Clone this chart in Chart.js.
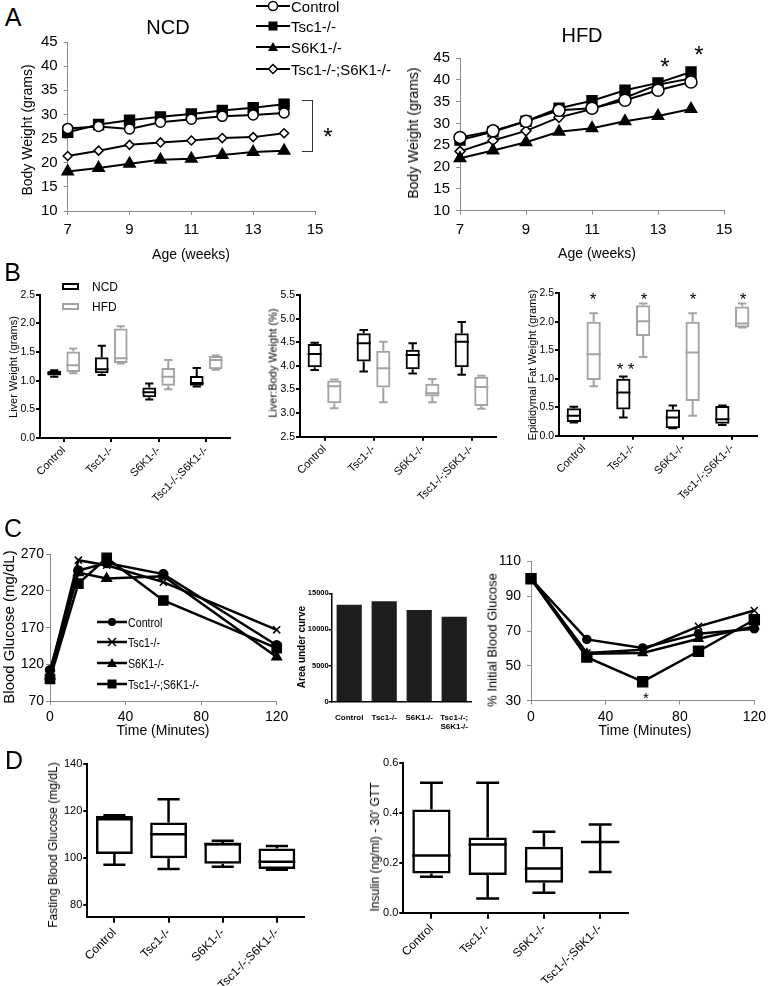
<!DOCTYPE html>
<html lang="en">
<head>
<meta charset="UTF-8">
<title>Body weight, tissue weight and glucose panels</title>
<script src="https://cdn.jsdelivr.net/npm/chart.js"></script>
<style>
    html, body {
        margin: 0;
        padding: 0;
        background: #fff;
        overflow: hidden;
    }
    #page {
        position: relative;
        width: 770px;
        height: 986px;
        font-family: "Liberation Sans", Arial, sans-serif;
        color: #000;
    }
    #page canvas {
        position: absolute;
    }
    .txt {
        position: absolute;
        white-space: nowrap;
        line-height: 1;
    }
</style>
</head>
<body>
<div id="page">
    <canvas id="ncdChart"></canvas>
    <canvas id="hfdChart"></canvas>
    <canvas id="liverChart"></canvas>
    <canvas id="ratioChart"></canvas>
    <canvas id="fatChart"></canvas>
    <canvas id="gttChart"></canvas>
    <canvas id="aucChart"></canvas>
    <canvas id="ittChart"></canvas>
    <canvas id="fastingChart"></canvas>
    <canvas id="insulinChart"></canvas>
</div>

<script>
    // ---- data ----
    const groups = ["Control", "Tsc1-/-", "S6K1-/-", "Tsc1-/-;S6K1-/-"];

    // A: body weight (grams) by age (weeks)
    const weeks = [7, 8, 9, 10, 11, 12, 13, 14];
    const ncdControl = [27.1, 27.5, 27.0, 28.4, 29.0, 29.6, 29.9, 30.3];
    const ncdTsc1 = [26.3, 27.9, 28.8, 29.5, 30.1, 30.8, 31.4, 32.1];
    const ncdS6k1 = [18.2, 18.9, 19.8, 20.6, 20.8, 21.6, 22.2, 22.5];
    const ncdDouble = [21.4, 22.5, 23.7, 24.2, 24.6, 25.1, 25.3, 26.1];
    const hfdControl = [26.8, 28.3, 30.5, 33.0, 33.5, 35.3, 37.6, 39.5];
    const hfdTsc1 = [26.2, 28.1, 30.5, 33.5, 35.2, 37.6, 39.3, 41.8];
    const hfdS6k1 = [22.0, 23.8, 25.7, 28.1, 28.9, 30.5, 31.7, 33.3];
    const hfdDouble = [23.6, 26.1, 28.3, 31.4, 33.3, 35.9, 38.9, 40.3];
    const weightTicks = [10, 15, 20, 25, 30, 35, 40, 45];
    const ageTicks = [7, 9, 11, 13, 15];

    // B: box plots, each entry is [min, q1, median, q3, max]
    const liverNcd = [[1.07, 1.09, 1.13, 1.17, 1.18], [1.10, 1.13, 1.20, 1.41, 1.61], [0.67, 0.71, 0.80, 0.88, 0.95], [0.90, 0.91, 0.96, 1.08, 1.22]];
    const liverHfd = [[1.13, 1.15, 1.27, 1.51, 1.56], [1.30, 1.31, 1.39, 1.91, 1.95], [0.85, 0.91, 1.07, 1.22, 1.36], [1.19, 1.20, 1.36, 1.43, 1.44]];
    const ratioNcd = [[3.91, 3.97, 4.25, 4.46, 4.49], [3.88, 4.09, 4.48, 4.69, 4.76], [3.84, 3.93, 4.23, 4.34, 4.48], [3.81, 3.97, 4.51, 4.69, 4.93]];
    const ratioHfd = [[3.10, 3.21, 3.57, 3.69, 3.71], [3.23, 3.54, 3.95, 4.32, 4.51], [3.23, 3.35, 3.42, 3.62, 3.72], [3.09, 3.15, 3.55, 3.77, 3.79]];
    const fatNcd = [[0.23, 0.24, 0.35, 0.48, 0.51], [0.32, 0.46, 0.76, 1.00, 1.04], [0.13, 0.13, 0.32, 0.46, 0.53], [0.19, 0.21, 0.29, 0.52, 0.53]];
    const fatHfd = [[0.87, 0.98, 1.43, 2.00, 2.15], [1.38, 1.75, 2.01, 2.29, 2.32], [0.35, 0.61, 1.46, 2.00, 2.15], [1.90, 1.90, 1.97, 2.27, 2.32]];
    const liverTicks = [0, 0.5, 1, 1.5, 2, 2.5];
    const ratioTicks = [2.5, 3, 3.5, 4, 4.5, 5, 5.5];

    // C: glucose tolerance, area under curve, insulin tolerance
    const gttMinutes = [0, 15, 30, 60, 120];
    const gttControl = [112, 248, 258, 243, 146];
    const gttTsc1 = [108, 262, 255, 232, 167];
    const gttS6k1 = [104, 245, 237, 240, 130];
    const gttDouble = [100, 230, 265, 207, 142];
    const gttTicks = [70, 120, 170, 220, 270];
    const minuteTicks = [0, 40, 80, 120];
    const aucLabels = ["Control", "Tsc1-/-", "S6K1-/-", ["Tsc1-/-;", "S6K1-/-"]];
    const aucValues = [13400, 13900, 12700, 11750];
    const aucTicks = [0, 5000, 10000, 15000];
    const ittMinutes = [0, 30, 60, 90, 120];
    const ittControl = [100, 65.2, 60.3, 68.5, 71.3];
    const ittTsc1 = [100, 57.4, 59.3, 72.7, 81.8];
    const ittS6k1 = [100, 57.0, 57.4, 65.6, 72.7];
    const ittDouble = [100, 55.0, 40.9, 58.4, 76.5];
    const ittTicks = [30, 50, 70, 90, 110];

    // D: fasting glucose and 30' insulin, [min, q1, median, q3, max]
    const fastingStats = [[97.2, 101.7, 116.6, 118.0, 118.3], [95.3, 99.9, 110.2, 115.2, 125.1], [96.3, 97.6, 106.0, 106.4, 107.4], [95.0, 95.3, 98.4, 104.1, 105.2]];
    const insulinStats = [[0.144, 0.157, 0.229, 0.413, 0.52], [0.057, 0.151, 0.273, 0.301, 0.52], [0.08, 0.12, 0.177, 0.264, 0.324], [0.163, 0.283, 0.283, 0.283, 0.353]];
    const fastingTicks = [80, 100, 120, 140];
    const insulinTicks = [0, 0.2, 0.4, 0.6];

    // ---- helpers ----
    Chart.defaults.font.family = '"Liberation Sans", Arial, sans-serif';
    Chart.defaults.color = "#000";

    const HFD_GREY = "#a3a3a3";
    const excel = { color: "#8c8c8c", width: 1, tick: 4 };
    const prism = { color: "#000", width: 2, tick: 4 };

    function valueAxis(min, max, ticks, style, font, pad, decimals, weight) {
        return {
            type: "linear", min: min, max: max,
            afterBuildTicks: s => { s.ticks = ticks.map(v => ({ value: v })); },
            grid: { drawOnChartArea: false, drawTicks: true, tickLength: style.tick, color: style.color, lineWidth: style.width },
            border: { display: true, color: style.color, width: style.width },
            ticks: {
                font: { size: font, weight: weight || "normal" }, padding: pad, color: "#000",
                callback: v => decimals == null ? String(v) : Number(v).toFixed(decimals)
            }
        };
    }

    function groupAxis(style, font, pad, tick) {
        return {
            type: "category", offset: true,
            grid: { offset: false, drawOnChartArea: false, drawTicks: tick > 0, tickLength: tick, color: style.color, lineWidth: style.width },
            border: { display: true, color: style.color, width: style.width },
            ticks: { font: { size: font }, padding: pad, minRotation: 45, maxRotation: 45, autoSkip: false, color: "#000" }
        };
    }

    // place a canvas so that its chart area lands on [left, top, right, bottom]
    function build(id, area, yw, xh, config) {
        const [L, T, R, B] = area;
        const x0 = Math.round(L - yw - 2), y0 = Math.round(T - 14);
        const x1 = Math.round(Math.min(R + 16, 770)), y1 = Math.round(B + xh + 2);
        const cv = document.getElementById(id);
        cv.width = x1 - x0; cv.height = y1 - y0;
        cv.style.left = x0 + "px"; cv.style.top = y0 + "px";
        cv.style.width = (x1 - x0) + "px"; cv.style.height = (y1 - y0) + "px";
        const o = config.options;
        o.responsive = false;
        o.animation = false;
        o.events = [];
        o.layout = { padding: { left: L - yw - x0, top: T - y0, right: x1 - R, bottom: y1 - B - xh } };
        o.plugins = Object.assign({ legend: { display: false }, tooltip: { enabled: false } }, o.plugins || {});
        o.scales.x.afterFit = s => { s.height = xh; };
        o.scales.y.afterFit = s => { s.width = yw; };
        return new Chart(cv, config);
    }

    function series(xs, ys, style, fill, r, lw) {
        return {
            data: xs.map((x, i) => ({ x: x, y: ys[i] })),
            borderColor: "#000", borderWidth: lw, tension: 0, clip: false,
            pointStyle: style, pointRadius: r, pointBackgroundColor: fill,
            pointBorderColor: "#000", pointBorderWidth: 1.5
        };
    }

    // whiskers, caps and median for floating-bar boxes
    const boxPlugin = {
        id: "boxWhiskers",
        afterDatasetsDraw(chart) {
            const ctx = chart.ctx, y = chart.scales.y;
            chart.data.datasets.forEach((ds, i) => {
                chart.getDatasetMeta(i).data.forEach((bar, j) => {
                    const s = ds.stats[j];
                    const p = bar.getProps(["x", "width"], true);
                    const half = p.width / 2, cap = p.width * 0.3;
                    const py = s.map(v => y.getPixelForValue(v));
                    ctx.save();
                    ctx.strokeStyle = ds.borderColor;
                    ctx.lineWidth = ds.borderWidth;
                    ctx.beginPath();
                    ctx.moveTo(p.x, py[3]); ctx.lineTo(p.x, py[4]);
                    ctx.moveTo(p.x, py[1]); ctx.lineTo(p.x, py[0]);
                    ctx.moveTo(p.x - cap, py[4]); ctx.lineTo(p.x + cap, py[4]);
                    ctx.moveTo(p.x - cap, py[0]); ctx.lineTo(p.x + cap, py[0]);
                    ctx.moveTo(p.x - half, py[2]); ctx.lineTo(p.x + half, py[2]);
                    ctx.stroke();
                    ctx.restore();
                });
            });
        }
    };

    function boxSet(stats, color, lw, catPct, barPct) {
        return {
            data: stats.map(s => [s[1], s[3]]), stats: stats,
            backgroundColor: "rgba(0,0,0,0)", borderColor: color, borderWidth: lw,
            borderSkipped: false, categoryPercentage: catPct, barPercentage: barPct
        };
    }

    // ---- A: body weight ----
    function weightChart(id, area, c, t, s, d, big) {
        return build(id, area, 40, 40, {
            type: "line",
            data: {
                datasets: [
                    series(weeks, c, "circle", "#fff", big ? 6 : 5, 2),
                    series(weeks, t, "rect", "#000", 7, 2),
                    series(weeks, s, "triangle", "#000", 6.5, 2),
                    series(weeks, d, "rectRot", "#fff", big ? 5 : 4.5, 2)
                ]
            },
            options: {
                scales: {
                    x: valueAxis(7, 15, ageTicks, excel, 15, 6),
                    y: valueAxis(10, 45, weightTicks, excel, 15, 6)
                }
            }
        });
    }
    weightChart("ncdChart", [67.7, 40.7, 315, 211], ncdControl, ncdTsc1, ncdS6k1, ncdDouble, false);
    weightChart("hfdChart", [460, 56.7, 724, 210.7], hfdControl, hfdTsc1, hfdS6k1, hfdDouble, true);

    // ---- B: tissue weights ----
    function dietBoxChart(id, area, ncd, hfd, min, max, ticks) {
        return build(id, area, 28, 70, {
            type: "bar",
            data: {
                labels: groups,
                datasets: [boxSet(ncd, "#000", 2, 0.8, 0.72), boxSet(hfd, HFD_GREY, 2, 0.8, 0.72)]
            },
            options: {
                scales: {
                    x: groupAxis(prism, 11, 2, 4),
                    y: valueAxis(min, max, ticks, prism, 10.5, 1, 1)
                }
            },
            plugins: [boxPlugin]
        });
    }
    dietBoxChart("liverChart", [40, 294.7, 230, 438], liverNcd, liverHfd, 0, 2.5, liverTicks);
    dietBoxChart("ratioChart", [300, 295, 496, 436.7], ratioNcd, ratioHfd, 2.5, 5.5, ratioTicks);
    dietBoxChart("fatChart", [559, 293.3, 757, 435.7], fatNcd, fatHfd, 0, 2.5, liverTicks);

    // ---- C: GTT, AUC, ITT ----
    build("gttChart", [50, 554.3, 276.7, 701], 40, 30, {
        type: "line",
        data: {
            datasets: [
                series(gttMinutes, gttControl, "circle", "#000", 4.5, 2.5),
                series(gttMinutes, gttTsc1, "crossRot", "#000", 5, 2.5),
                series(gttMinutes, gttS6k1, "triangle", "#000", 5.5, 2.5),
                series(gttMinutes, gttDouble, "rect", "#000", 6.5, 2.5)
            ]
        },
        options: {
            scales: {
                x: valueAxis(0, 120, minuteTicks, excel, 14, 4),
                y: valueAxis(70, 270, gttTicks, excel, 14, 2)
            }
        }
    });

    build("aucChart", [331.7, 593.3, 471.7, 701.7], 30, 30, {
        type: "bar",
        data: {
            labels: aucLabels,
            datasets: [{ data: aucValues, backgroundColor: "#1e1e1e", categoryPercentage: 0.72, barPercentage: 1 }]
        },
        options: {
            scales: {
                x: {
                    type: "category", offset: true,
                    grid: { display: false },
                    border: { display: true, color: "#000", width: 1.5 },
                    ticks: { font: { size: 8, weight: "bold" }, padding: 3, maxRotation: 0, autoSkip: false, color: "#000" }
                },
                y: valueAxis(0, 15000, aucTicks, { color: "#000", width: 1.5, tick: 3 }, 7.5, 0, null, "bold")
            }
        }
    });

    build("ittChart", [531, 560.7, 759, 700.7], 40, 30, {
        type: "line",
        data: {
            datasets: [
                series(ittMinutes, ittControl, "circle", "#000", 4, 2.5),
                series(ittMinutes, ittTsc1, "crossRot", "#000", 5, 2.5),
                series(ittMinutes, ittS6k1, "triangle", "#000", 5, 2.5),
                series(ittMinutes, ittDouble, "rect", "#000", 7, 2.5)
            ]
        },
        options: {
            scales: {
                x: valueAxis(0, 120, minuteTicks, excel, 14, 4),
                y: valueAxis(30, 110, ittTicks, excel, 14, 6)
            }
        }
    });

    // ---- D: fasting glucose, insulin ----
    function singleBoxChart(id, area, stats, min, max, ticks, decimals) {
        return build(id, area, 34, 70, {
            type: "bar",
            data: { labels: groups, datasets: [boxSet(stats, "#000", 2.5, 0.68, 1)] },
            options: {
                scales: {
                    x: groupAxis(prism, 12, 3, 6),
                    y: valueAxis(min, max, ticks, { color: "#000", width: 2, tick: 4 }, 11, 1, decimals)
                }
            },
            plugins: [boxPlugin]
        });
    }
    singleBoxChart("fastingChart", [87.3, 764.3, 304, 916.7], fastingStats, 75, 140, fastingTicks, null);
    singleBoxChart("insulinChart", [403.3, 762.7, 628.3, 912.7], insulinStats, 0, 0.6, insulinTicks, 1);

    // ---- text, legends and annotations ----
    const page = document.getElementById("page");

    function txt(text, cx, cy, size, opts) {
        opts = opts || {};
        const el = document.createElement("div");
        el.className = "txt";
        el.textContent = text;
        el.style.fontSize = size + "px";
        if (opts.bold) el.style.fontWeight = "bold";
        el.style.left = cx + "px";
        el.style.top = cy + "px";
        if (opts.leftAlign) {
            el.style.transformOrigin = "0 50%";
            el.style.transform = "translateY(-50%)" + (opts.squeeze ? " scaleX(" + opts.squeeze + ")" : "");
        } else {
            el.style.transform = "translate(-50%, -50%)" + (opts.rot ? " rotate(" + opts.rot + "deg)" : "");
        }
        page.appendChild(el);
        return el;
    }

    function star(cx, cy, size) {
        txt("*", cx, cy + size * 0.22, size);
    }

    function marker(shape, x, y) {
        switch (shape) {
            case "circleOpen": return `<circle cx="${x}" cy="${y}" r="4.5" fill="#fff" stroke="#000" stroke-width="1.5"/>`;
            case "circle": return `<circle cx="${x}" cy="${y}" r="4" fill="#000"/>`;
            case "rect": return `<rect x="${x - 4.5}" y="${y - 4.5}" width="9" height="9" fill="#000"/>`;
            case "triangle": return `<polygon points="${x},${y - 5} ${x + 5},${y + 4} ${x - 5},${y + 4}" fill="#000"/>`;
            case "diamond": return `<polygon points="${x},${y - 4.5} ${x + 4.5},${y} ${x},${y + 4.5} ${x - 4.5},${y}" fill="#fff" stroke="#000" stroke-width="1.5"/>`;
            case "cross": return `<path d="M${x - 4} ${y - 4}L${x + 4} ${y + 4}M${x - 4} ${y + 4}L${x + 4} ${y - 4}" stroke="#000" stroke-width="1.5"/>`;
        }
        return "";
    }

    function legendRow(x0, x1, cy, shape, text, size, lw, squeeze) {
        const w = x1 - x0, h = 14;
        const svg = document.createElementNS("http://www.w3.org/2000/svg", "svg");
        svg.setAttribute("width", w);
        svg.setAttribute("height", h);
        svg.style.position = "absolute";
        svg.style.left = x0 + "px";
        svg.style.top = (cy - h / 2) + "px";
        svg.innerHTML = `<line x1="0" y1="7" x2="${w}" y2="7" stroke="#000" stroke-width="${lw}"/>` + marker(shape, w / 2, 7);
        page.appendChild(svg);
        txt(text, x1 + 1, cy, size, { leftAlign: true, squeeze: squeeze });
    }

    function boxKey(x, cy, color, text) {
        const el = document.createElement("div");
        el.style.cssText = `position:absolute;left:${x}px;top:${cy - 4}px;width:13px;height:3px;border:2.5px solid ${color};`;
        page.appendChild(el);
        txt(text, x + 30, cy, 12, { leftAlign: true });
    }

    // panel letters
    txt("A", 13, 16.5, 25);
    txt("B", 12.5, 272, 25);
    txt("C", 13, 528, 25);
    txt("D", 14, 760, 25);

    // A
    txt("NCD", 168, 27, 20);
    txt("HFD", 582, 35, 20);
    txt("Body Weight (grams)", 27, 130, 14, { rot: -90 });
    txt("Body Weight (grams)", 413, 133, 14, { rot: -90 });
    txt("Age (weeks)", 191, 254, 14);
    txt("Age (weeks)", 597, 253, 14);
    legendRow(256, 290, 5.5, "circleOpen", "Control", 15, 2);
    legendRow(256, 290, 26, "rect", "Tsc1-/-", 15, 2);
    legendRow(256, 290, 47, "triangle", "S6K1-/-", 15, 2);
    legendRow(256, 290, 68.5, "diamond", "Tsc1-/-;S6K1-/-", 15, 2);
    const bracket = document.createElement("div");
    bracket.style.cssText = "position:absolute;left:302px;top:100px;width:10px;height:50px;border:1px solid #333;border-left:none;";
    page.appendChild(bracket);
    star(328, 132, 24);
    star(665, 62, 24);
    star(699, 50, 24);

    // B
    boxKey(62, 287, "#000", "NCD");
    boxKey(62, 307, HFD_GREY, "HFD");
    txt("Liver Weight (grams)", 13, 367, 11, { rot: -90 });
    txt("Liver:Body Weight (%)", 273, 363, 11, { rot: -90 });
    txt("Epididymal Fat Weight (grams)", 532, 365, 11, { rot: -90 });
    [593, 644, 693, 743].forEach(x => star(x, 295, 17));
    star(620, 365, 17);
    star(631, 365, 17);

    // C
    txt("Blood Glucose (mg/dL)", 8, 627, 15, { rot: -90 });
    txt("Time (Minutes)", 163, 730, 14);
    txt("Time (Minutes)", 645, 730, 14);
    legendRow(97, 127, 622, "circle", "Control", 13, 2.5, 0.82);
    legendRow(97, 127, 642, "cross", "Tsc1-/-", 13, 2.5, 0.82);
    legendRow(97, 127, 663, "triangle", "S6K1-/-", 13, 2.5, 0.82);
    legendRow(97, 127, 684, "rect", "Tsc1-/-;S6K1-/-", 13, 2.5, 0.82);
    txt("Area under curve", 302, 647, 10, { rot: -90, bold: true });
    txt("% Initial Blood Glucose", 492, 640, 13, { rot: -90 });
    star(646, 694, 15);

    // D
    txt("Fasting Blood Glucose (mg/dL)", 53, 845, 12, { rot: -90 });
    txt("Insulin (ng/ml) - 30' GTT", 375, 847, 12, { rot: -90 });
</script>
</body>
</html>
